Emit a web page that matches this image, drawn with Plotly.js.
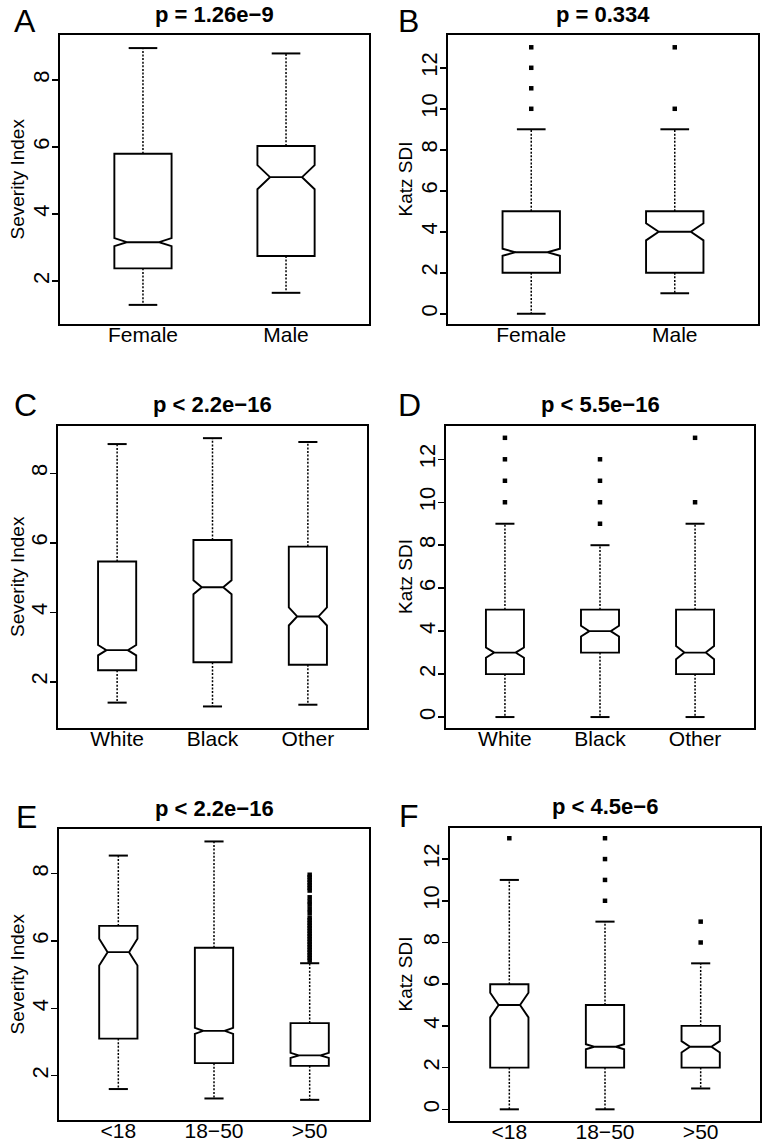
<!DOCTYPE html>
<html>
<head>
<meta charset="utf-8">
<script src="https://cdn.plot.ly/plotly-3.0.1.min.js"></script>
<style>
  html, body { margin:0; padding:0; background:#fff; }
  #plot { width:763px; height:1140px; }
</style>
</head>
<body>
<div id="plot"></div>
<script>
// group labels
const sexCats = ["Female", "Male"];
const raceCats = ["White", "Black", "Other"];
const ageCats = ["<18", "18\u221250", ">50"];

// one row per group: [lower whisker, Q1, median, Q3, upper whisker, notch half-span]
const sevSex = [
  [1.29, 2.38, 3.16, 5.80, 8.95, 0.12],
  [1.65, 2.75, 5.10, 6.03, 8.79, 0.36]
];
const katzSex = [
  [0, 2, 3, 5, 9, 0.17],
  [1, 2, 4, 5, 9, 0.42]
];
const sevRace = [
  [1.40, 2.33, 2.91, 5.46, 8.84, 0.15],
  [1.29, 2.56, 4.72, 6.08, 9.01, 0.20],
  [1.34, 2.49, 3.88, 5.89, 8.90, 0.26]
];
const katzRace = [
  [0, 2, 3, 5, 9, 0.24],
  [0, 3, 4, 5, 8, 0.25],
  [0, 2, 3, 5, 9, 0.31]
];
const sevAge = [
  [1.60, 3.10, 5.67, 6.45, 8.54, 0.40],
  [1.32, 2.37, 3.33, 5.80, 8.96, 0.09],
  [1.28, 2.29, 2.60, 3.56, 5.34, 0.075]
];
const katzAge = [
  [0, 2, 5, 6, 11, 0.59],
  [0, 2, 3, 5, 9, 0.12],
  [1, 2, 3, 4, 7, 0.27]
];

// outliers per group
const sevSexOut = [[], []];
const katzSexOut = [[10, 11, 12, 13], [10, 13]];
const sevRaceOut = [[], [], []];
const katzRaceOut = [[10, 11, 12, 13], [9, 10, 11, 12], [10, 13]];
const sevAgeOut = [[], [], [
  5.42, 5.50, 5.58, 5.66, 5.74, 5.82, 5.90, 5.98, 6.06, 6.14, 6.22, 6.30,
  6.38, 6.46, 6.54, 6.62, 6.70, 6.84, 6.95, 7.08, 7.18, 7.30, 7.50, 7.58,
  7.66, 7.74, 7.82, 7.90, 7.97
]];
const katzAgeOut = [[13], [10, 11, 12, 13], [8, 9]];

const pTitles = ["p = 1.26e\u22129", "p = 0.334", "p < 2.2e\u221216", "p < 5.5e\u221216", "p < 2.2e\u221216", "p < 4.5e\u22126"];

const W = 763, H = 1140;
const FONT = "Liberation Sans, Arial, Helvetica, sans-serif";

// layout of each panel in page pixels
const panels = [
  {letter:"A", ylab:"Severity Index", cats:sexCats,  stats:sevSex,   out:sevSexOut,   yr:[0.72, 9.34],  px:[60, 369],  py:[35, 324],  ty:14,  lx:12, ly:21, ax:17},
  {letter:"B", ylab:"Katz SDI",       cats:sexCats,  stats:katzSex,  out:katzSexOut,  yr:[-0.5, 13.6],  px:[448, 758], py:[35, 324],  ty:14,  lx:396, ly:21, ax:405},
  {letter:"C", ylab:"Severity Index", cats:raceCats, stats:sevRace,  out:sevRaceOut,  yr:[0.67, 9.36],  px:[58, 367],  py:[426, 728], ty:404, lx:12, ly:405, ax:17},
  {letter:"D", ylab:"Katz SDI",       cats:raceCats, stats:katzRace, out:katzRaceOut, yr:[-0.51, 13.55], px:[446, 754], py:[426, 728], ty:404, lx:396, ly:405, ax:405},
  {letter:"E", ylab:"Severity Index", cats:ageCats,  stats:sevAge,   out:sevAgeOut,   yr:[0.68, 9.33],  px:[59, 369],  py:[829, 1120], ty:808, lx:14, ly:817, ax:17},
  {letter:"F", ylab:"Katz SDI",       cats:ageCats,  stats:katzAge,  out:katzAgeOut,  yr:[-0.56, 13.49], px:[450, 760], py:[828, 1121], ty:806, lx:397, ly:816, ax:405}
];

const traces = [];
const layout = {
  width: W, height: H,
  margin: {l:0, r:0, t:0, b:0},
  paper_bgcolor: "#fff", plot_bgcolor: "#fff",
  showlegend: false,
  font: {family: FONT, color: "#000"},
  annotations: []
};

panels.forEach((p, k) => {
  const n = k + 1;
  const xa = "x" + n, ya = "y" + n;
  const pos = p.cats.map((_, i) => i + 1);
  const st = p.stats;

  traces.push({
    type: "box", xaxis: xa, yaxis: ya,
    x: pos,
    q1: st.map(r => r[1]),
    median: st.map(r => r[2]),
    q3: st.map(r => r[3]),
    lowerfence: st.map(r => r[1]),
    upperfence: st.map(r => r[3]),
    notched: true,
    notchspan: st.map(r => r[5]),
    notchwidth: 0.22,
    width: 0.4,
    whiskerwidth: 0,
    boxpoints: false,
    fillcolor: "#fff",
    line: {color: "#000", width: 1.9},
    hoverinfo: "skip"
  });

  // dotted whiskers and solid staples
  const wx = [], wy = [], cx = [], cy = [];
  st.forEach((r, i) => {
    const c = pos[i];
    wx.push(c, c, null, c, c, null);
    wy.push(r[3], r[4], null, r[1], r[0], null);
    cx.push(c - 0.1, c + 0.1, null, c - 0.1, c + 0.1, null);
    cy.push(r[4], r[4], null, r[0], r[0], null);
  });
  traces.push({
    type: "scatter", mode: "lines", xaxis: xa, yaxis: ya,
    x: wx, y: wy,
    line: {color: "#000", width: 1.5, dash: "2px,1.6px"},
    hoverinfo: "skip"
  });
  traces.push({
    type: "scatter", mode: "lines", xaxis: xa, yaxis: ya,
    x: cx, y: cy,
    line: {color: "#000", width: 2},
    hoverinfo: "skip"
  });

  const ox = [], oy = [];
  p.out.forEach((vals, i) => vals.forEach(v => { ox.push(pos[i]); oy.push(v); }));
  if (ox.length) {
    traces.push({
      type: "scatter", mode: "markers", xaxis: xa, yaxis: ya,
      x: ox, y: oy,
      marker: {color: "#000", size: 4.5, symbol: "square"},
      hoverinfo: "skip"
    });
  }

  const nc = p.cats.length;
  layout["xaxis" + n] = {
    domain: [p.px[0] / W, p.px[1] / W],
    anchor: ya,
    range: [0.5 - 0.04 * nc, nc + 0.5 + 0.04 * nc],
    tickvals: pos, ticktext: p.cats,
    ticks: "",
    ticklabelstandoff: -9,
    showline: true, mirror: true, linecolor: "#000", linewidth: 2,
    showgrid: false, zeroline: false,
    tickfont: {family: FONT, size: 21, color: "#000"},
    fixedrange: true
  };
  layout["yaxis" + n] = {
    domain: [1 - p.py[1] / H, 1 - p.py[0] / H],
    anchor: xa,
    range: p.yr,
    tick0: 0, dtick: 2,
    ticks: "outside", ticklen: 6, tickwidth: 1.5, tickcolor: "#000",
    tickangle: -90,
    ticklabelstandoff: -6,
    showline: true, mirror: true, linecolor: "#000", linewidth: 2,
    showgrid: false, zeroline: false,
    tickfont: {family: FONT, size: 22, color: "#000"},
    fixedrange: true
  };

  const cxp = (p.px[0] + p.px[1]) / 2 / W;
  layout.annotations.push({
    xref: "paper", yref: "paper", x: cxp, y: 1 - p.ty / H,
    xanchor: "center", yanchor: "middle", showarrow: false,
    text: "<b>" + pTitles[k] + "</b>",
    font: {family: FONT, size: 22, color: "#000"}
  });
  layout.annotations.push({
    xref: "paper", yref: "paper", x: p.lx / W, y: 1 - p.ly / H,
    xanchor: "left", yanchor: "middle", showarrow: false,
    text: p.letter,
    font: {family: FONT, size: 32, color: "#000"}
  });
  layout.annotations.push({
    xref: "paper", yref: "paper", x: p.ax / W, y: 1 - (p.py[0] + p.py[1]) / 2 / H,
    xanchor: "center", yanchor: "middle", showarrow: false,
    textangle: -90,
    text: p.ylab,
    font: {family: FONT, size: 19, color: "#000"}
  });
});

Plotly.newPlot("plot", traces, layout, {displayModeBar: false, staticPlot: true});
</script>
</body>
</html>
